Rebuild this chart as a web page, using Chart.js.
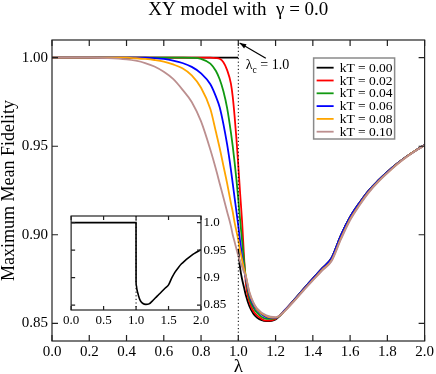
<!DOCTYPE html>
<html>
<head>
<meta charset="utf-8">
<script src="https://cdn.jsdelivr.net/npm/chart.js@4.4.1/dist/chart.umd.min.js"></script>
<style>
  html, body { margin: 0; padding: 0; background: #fff; }
  #wrap { position: relative; width: 436px; height: 374px; }
  #main { position: absolute; left: 0; top: 0; }
  #inset { position: absolute; left: 60px; top: 205px; }
</style>
</head>
<body>
<div id="wrap">
  <canvas id="main" width="436" height="374"></canvas>
  <canvas id="inset" width="176" height="125"></canvas>
</div>
<script>
// lambda grid shared by the finite temperature curves
var lambdaGrid = [0, 0.1, 0.2, 0.3, 0.4, 0.45, 0.5, 0.55, 0.6, 0.65, 0.7, 0.75, 0.8, 0.85, 0.88, 0.9, 0.92, 0.94, 0.96, 0.97, 0.98, 0.99,
                  1.0, 1.01, 1.02, 1.03, 1.04, 1.06, 1.08, 1.1, 1.15, 1.2, 1.25, 1.3, 1.35, 1.4, 1.45, 1.5, 1.55, 1.6, 1.65, 1.7, 1.75, 1.8, 1.85, 1.9, 1.95, 2.0];

var fid002 = [1, 1, 1, 1, 1, 1, 1, 1, 1, 1, 1, 1, 1, 1, 0.9998, 0.9994, 0.9974, 0.993, 0.9855, 0.978, 0.967, 0.954,
              0.939, 0.923, 0.908, 0.889, 0.873, 0.862, 0.857, 0.8545, 0.8515, 0.8525, 0.8573, 0.8632, 0.8693, 0.8752, 0.881, 0.8867, 0.8995, 0.910, 0.918, 0.925, 0.9305, 0.9355, 0.940, 0.944, 0.9475, 0.9507];
var fid004 = [1, 1, 1, 1, 1, 1, 1, 1, 1, 1, 1, 0.9999, 0.9993, 0.9967, 0.9925, 0.9878, 0.981, 0.9715, 0.958, 0.950, 0.941, 0.931,
              0.920, 0.908, 0.897, 0.886, 0.876, 0.864, 0.859, 0.856, 0.8525, 0.8528, 0.8574, 0.8632, 0.8693, 0.8752, 0.881, 0.8867, 0.8995, 0.910, 0.918, 0.925, 0.9305, 0.9355, 0.940, 0.944, 0.9475, 0.9507];
var fid006 = [1, 1, 1, 1, 1, 1, 1, 0.9998, 0.9993, 0.9984, 0.997, 0.9948, 0.9912, 0.985, 0.978, 0.972, 0.9625, 0.951, 0.937, 0.929, 0.921, 0.913,
              0.905, 0.896, 0.888, 0.881, 0.876, 0.866, 0.8605, 0.8575, 0.8535, 0.853, 0.8575, 0.8632, 0.8693, 0.8752, 0.881, 0.8867, 0.8995, 0.910, 0.918, 0.925, 0.9305, 0.9355, 0.940, 0.944, 0.9475, 0.9507];
var fid008 = [1, 1, 1, 1, 1, 0.9997, 0.9993, 0.9987, 0.9978, 0.9962, 0.994, 0.990, 0.983, 0.971, 0.958, 0.949, 0.939, 0.929, 0.918, 0.913, 0.907, 0.902,
              0.897, 0.891, 0.886, 0.881, 0.877, 0.867, 0.8615, 0.858, 0.854, 0.8532, 0.8572, 0.8628, 0.8688, 0.8745, 0.8802, 0.8855, 0.8978, 0.9088, 0.917, 0.9242, 0.930, 0.935, 0.9397, 0.9438, 0.9474, 0.9506];
var fid010 = [1, 1, 1, 0.9998, 0.9991, 0.9983, 0.997, 0.995, 0.992, 0.988, 0.982, 0.975, 0.964, 0.948, 0.937, 0.929, 0.921, 0.913, 0.905, 0.900, 0.896, 0.892,
              0.888, 0.885, 0.882, 0.879, 0.8765, 0.8675, 0.862, 0.8585, 0.8545, 0.8535, 0.857, 0.8625, 0.8685, 0.8742, 0.8798, 0.885, 0.8972, 0.9082, 0.9165, 0.9238, 0.9297, 0.9348, 0.9395, 0.9436, 0.9473, 0.9505];

// zero temperature curve has its own grid (sharp drop at lambda = 1)
var lambdaT0 = [0, 0.5, 0.9995, 1.0, 1.005, 1.01, 1.02, 1.03, 1.04, 1.06, 1.08, 1.1, 1.15, 1.2, 1.25, 1.3, 1.35, 1.4, 1.45, 1.5, 1.55, 1.6, 1.65, 1.7, 1.75, 1.8, 1.85, 1.9, 1.95, 2.0];
var fid000 = [1, 1, 1, 0.892, 0.886, 0.881, 0.875, 0.8705, 0.866, 0.8595, 0.8555, 0.8532, 0.8512, 0.8522, 0.8573, 0.8632, 0.8693, 0.8752, 0.881, 0.8867, 0.8995, 0.910, 0.918, 0.925, 0.9305, 0.9355, 0.940, 0.944, 0.9475, 0.9507];

var kTLabels = ['kT = 0.00', 'kT = 0.02', 'kT = 0.04', 'kT = 0.06', 'kT = 0.08', 'kT = 0.10'];
var lineColors = ['#000000', '#ff0000', '#119911', '#0000ff', '#ffa500', '#bc8f8f'];

var xTicks = [0, 0.2, 0.4, 0.6, 0.8, 1.0, 1.2, 1.4, 1.6, 1.8, 2.0];
var yTicks = [0.85, 0.90, 0.95, 1.00];
var insetXTicks = [0, 0.5, 1.0, 1.5, 2.0];
var insetYTicks = [0.85, 0.9, 0.95, 1.0];
var insetYLabels = ['0.85', '0.9', '0.95', '1.0'];
var lambdaC = 1.0;

var serif = '"Liberation Serif", "DejaVu Serif", serif';

function toPoints(xs, ys) {
    return ys.map(function (y, i) { return {x: xs[i], y: y}; });
}

// in the main panel the T = 0 jump at lambda_c is left open (only the dotted marker shows)
function withJumpGap(points) {
    var out = [];
    points.forEach(function (p, i) {
        if (i > 0 && p.x === lambdaC && points[i - 1].y === 1) out.push({x: lambdaC, y: null});
        out.push(p);
    });
    return out;
}

var seriesY = [fid000, fid002, fid004, fid006, fid008, fid010];

var mainSets = seriesY.map(function (ys, i) {
    return {
        label: kTLabels[i],
        data: i === 0 ? withJumpGap(toPoints(lambdaT0, ys)) : toPoints(lambdaGrid, ys),
        borderColor: lineColors[i],
        backgroundColor: lineColors[i],
        borderWidth: 1.8,
        pointRadius: 0,
        fill: false,
        spanGaps: false,
        cubicInterpolationMode: 'monotone',
        order: seriesY.length - i
    };
});

// frame with inward ticks on all four sides
function frameTicks(chart, xs, ys, len) {
    var ctx = chart.ctx, a = chart.chartArea;
    var sx = chart.scales.x, sy = chart.scales.y;
    ctx.save();
    ctx.strokeStyle = '#222';
    ctx.lineWidth = 1.2;
    ctx.strokeRect(a.left, a.top, a.right - a.left, a.bottom - a.top);
    ctx.beginPath();
    xs.forEach(function (v) {
        var px = sx.getPixelForValue(v);
        ctx.moveTo(px, a.bottom); ctx.lineTo(px, a.bottom - len);
        ctx.moveTo(px, a.top); ctx.lineTo(px, a.top + len);
    });
    ys.forEach(function (v) {
        var py = sy.getPixelForValue(v);
        ctx.moveTo(a.left, py); ctx.lineTo(a.left + len, py);
        ctx.moveTo(a.right, py); ctx.lineTo(a.right - len, py);
    });
    ctx.stroke();
    ctx.restore();
}

function dottedCritical(chart) {
    var ctx = chart.ctx, a = chart.chartArea;
    var px = chart.scales.x.getPixelForValue(lambdaC);
    ctx.save();
    ctx.strokeStyle = '#000';
    ctx.lineWidth = 1;
    ctx.setLineDash([1.2, 2.4]);
    ctx.beginPath();
    ctx.moveTo(px, a.top);
    ctx.lineTo(px, a.bottom);
    ctx.stroke();
    ctx.restore();
}

var mainDecor = {
    id: 'mainDecor',
    afterDatasetsDraw: function (chart) {
        dottedCritical(chart);
    },
    afterDraw: function (chart) {
        var ctx = chart.ctx, a = chart.chartArea;
        frameTicks(chart, xTicks, yTicks, 6);

        // title
        ctx.save();
        ctx.fillStyle = '#000';
        ctx.font = '19px ' + serif;
        ctx.textAlign = 'center';
        ctx.textBaseline = 'middle';
        ctx.fillText('XY model with  \u03b3 = 0.0', (a.left + a.right) / 2, 10);

        // lambda_c annotation with arrow
        var xc = chart.scales.x.getPixelForValue(lambdaC);
        ctx.textAlign = 'left';
        ctx.textBaseline = 'alphabetic';
        ctx.font = '14px ' + serif;
        ctx.fillText('\u03bb', xc + 7.5, a.top + 28.5);
        var lw = ctx.measureText('\u03bb').width;
        ctx.font = '9.5px ' + serif;
        ctx.fillText('c', xc + 7.5 + lw, a.top + 33);
        var cw = ctx.measureText('c').width;
        ctx.font = '14px ' + serif;
        ctx.fillText(' = 1.0', xc + 7.5 + lw + cw, a.top + 28.5);

        var tx = xc + 1.3, ty = a.top + 3;
        var fx = xc + 27.5, fy = a.top + 18.3;
        var ang = Math.atan2(ty - fy, tx - fx);
        ctx.strokeStyle = '#000';
        ctx.lineWidth = 1.2;
        ctx.beginPath();
        ctx.moveTo(fx, fy);
        ctx.lineTo(tx, ty);
        ctx.stroke();
        ctx.beginPath();
        ctx.moveTo(tx, ty);
        ctx.lineTo(tx - 7 * Math.cos(ang - 0.35), ty - 7 * Math.sin(ang - 0.35));
        ctx.lineTo(tx - 7 * Math.cos(ang + 0.35), ty - 7 * Math.sin(ang + 0.35));
        ctx.closePath();
        ctx.fillStyle = '#000';
        ctx.fill();

        // legend box
        var bw = 81, bh = 81;
        var bx = a.right - 30 - bw, by = a.top + 18;
        ctx.strokeStyle = '#8a8a8a';
        ctx.lineWidth = 1.5;
        ctx.strokeRect(bx, by, bw, bh);
        ctx.font = '13.5px ' + serif;
        ctx.textBaseline = 'middle';
        chart.data.datasets.forEach(function (ds, i) {
            var yy = by + 9.7 + i * 12.8;
            ctx.strokeStyle = ds.borderColor;
            ctx.lineWidth = 1.8;
            ctx.beginPath();
            ctx.moveTo(bx + 3, yy);
            ctx.lineTo(bx + 20, yy);
            ctx.stroke();
            ctx.fillStyle = '#000';
            ctx.fillText(ds.label, bx + 26, yy + 0.5);
        });
        ctx.restore();
    }
};

new Chart(document.getElementById('main'), {
    type: 'line',
    data: {datasets: mainSets},
    options: {
        responsive: false,
        animation: false,
        devicePixelRatio: 1,
        layout: {padding: {top: 40, right: 10, left: 0, bottom: 0}},
        plugins: {legend: {display: false}, tooltip: {enabled: false}, title: {display: false}},
        scales: {
            x: {
                type: 'linear', min: 0, max: 2,
                afterBuildTicks: function (s) { s.ticks = xTicks.map(function (v) { return {value: v}; }); },
                afterFit: function (s) { s.height = 33; },
                grid: {display: false, drawTicks: false},
                border: {display: false},
                ticks: {
                    callback: function (v) { return v.toFixed(1); },
                    font: {family: serif, size: 15}, color: '#000',
                    padding: 2, maxRotation: 0, autoSkip: false
                },
                title: {display: true, text: '\u03bb', color: '#000', padding: 0,
                        font: {family: serif, size: 19, lineHeight: 0.75}}
            },
            y: {
                type: 'linear', min: 0.84, max: 1.01,
                afterBuildTicks: function (s) { s.ticks = yTicks.map(function (v) { return {value: v}; }); },
                afterFit: function (s) { s.width = 52; },
                grid: {display: false, drawTicks: false},
                border: {display: false},
                ticks: {
                    callback: function (v) { return v.toFixed(2); },
                    font: {family: serif, size: 15}, color: '#000',
                    padding: 4, autoSkip: false
                },
                title: {display: true, text: 'Maximum Mean Fidelity', color: '#000', padding: 0,
                        font: {family: serif, size: 18, lineHeight: 1.0}}
            }
        }
    },
    plugins: [mainDecor]
});

// inset: zero temperature curve only
var insetDecor = {
    id: 'insetDecor',
    beforeDatasetsDraw: function (chart) {
        dottedCritical(chart);
    },
    afterDraw: function (chart) {
        frameTicks(chart, insetXTicks, insetYTicks, 4);
    }
};

new Chart(document.getElementById('inset'), {
    type: 'line',
    data: {
        datasets: [{
            label: kTLabels[0],
            data: toPoints(lambdaT0, fid000),
            borderColor: lineColors[0],
            borderWidth: 1.6,
            pointRadius: 0,
            fill: false,
            cubicInterpolationMode: 'monotone'
        }]
    },
    options: {
        responsive: false,
        animation: false,
        devicePixelRatio: 1,
        layout: {padding: {top: 11, left: 11, right: 0, bottom: 0}},
        plugins: {legend: {display: false}, tooltip: {enabled: false}},
        scales: {
            x: {
                type: 'linear', min: 0, max: 2,
                afterBuildTicks: function (s) { s.ticks = insetXTicks.map(function (v) { return {value: v}; }); },
                afterFit: function (s) { s.height = 20; },
                grid: {display: false, drawTicks: false},
                border: {display: false},
                ticks: {
                    callback: function (v) { return v.toFixed(1); },
                    font: {family: serif, size: 13}, color: '#000',
                    padding: 3, maxRotation: 0, autoSkip: false
                }
            },
            y: {
                type: 'linear', position: 'right', min: 0.841, max: 1.012,
                afterBuildTicks: function (s) { s.ticks = insetYTicks.map(function (v) { return {value: v}; }); },
                afterFit: function (s) { s.width = 35; },
                grid: {display: false, drawTicks: false},
                border: {display: false},
                ticks: {
                    callback: function (v, i) { return insetYLabels[i]; },
                    font: {family: serif, size: 13}, color: '#000',
                    padding: 2.5, autoSkip: false
                }
            }
        }
    },
    plugins: [insetDecor]
});
</script>
</body>
</html>
